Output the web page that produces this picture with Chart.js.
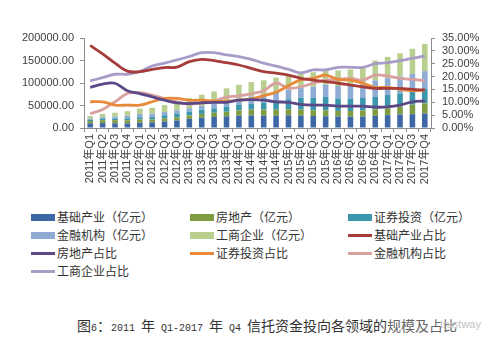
<!DOCTYPE html>
<html lang="zh-CN">
<head>
<meta charset="utf-8">
<script src="https://cdn.jsdelivr.net/npm/chart.js@4.4.1/dist/chart.umd.min.js"></script>
<style>
    body { margin: 0; background: #fff; width: 500px; height: 350px; position: relative; overflow: hidden; font-family: "Noto Sans CJK SC", sans-serif; }
    #chartBox { position: absolute; left: 0; top: 0; width: 500px; height: 200px; }
    .item { position: absolute; font-size: 12px; color: #333; line-height: 14px; height: 14px; white-space: nowrap; }
    .item i { display: inline-block; width: 24px; vertical-align: middle; margin-right: 2px; margin-top: -2px; }
    .caption { position: absolute; left: 77px; top: 317px; line-height: 16px; color: #333; white-space: nowrap; font-family: "Noto Sans CJK SC", sans-serif; font-size: 14px; }
    .caption .a { font-family: "Liberation Mono", monospace; font-size: 10px; white-space: pre; }
    .caption .w { color: #666; }
    .mark { position: absolute; left: 440px; top: 318px; font-size: 11px; color: #c4c4c4; font-family: "Liberation Sans", sans-serif; }
</style>
</head>
<body>
<div id="chartBox"><canvas id="trustChart" width="500" height="200"></canvas></div>
<div id="legend"></div>
<div class="caption">图<span class="a">6</span>：<span class="a">2011 </span>年<span class="a"> Q1-2017 </span>年<span class="a"> Q4 </span>信托资金投向各领域的<span class="w">规模及占比</span></div>
<div class="mark">trustway</div>
<script>
const quarters = [
    "2011年Q1", "2011年Q2", "2011年Q3", "2011年Q4",
    "2012年Q1", "2012年Q2", "2012年Q3", "2012年Q4",
    "2013年Q1", "2013年Q2", "2013年Q3", "2013年Q4",
    "2014年Q1", "2014年Q2", "2014年Q3", "2014年Q4",
    "2015年Q1", "2015年Q2", "2015年Q3", "2015年Q4",
    "2016年Q1", "2016年Q2", "2016年Q3", "2016年Q4",
    "2017年Q1", "2017年Q2", "2017年Q3", "2017年Q4"
];

// 规模（亿元）
const infraAmount = [10375, 10944, 10372, 10387, 11800, 12513, 14528, 16825, 20467, 22869, 24534, 25931, 27222, 27678,
    27311, 27422, 27981, 27605, 26572, 26177, 25512, 25040, 25493, 27209, 28626, 30146, 30806, 32033];
const estateAmount = [5107, 6498, 7162, 6815, 7220, 6640, 6677, 6957, 7536, 8394, 9364, 10209, 12000, 13123,
    13469, 13131, 13583, 13159, 12715, 12943, 12463, 12745, 13543, 14311, 15242, 17422, 20948, 22726];
const securityAmount = [3297, 3876, 3663, 4183, 4795, 5598, 7109, 8164, 8568, 9250, 9832, 10617, 12000, 13481,
    15713, 17895, 22412, 26747, 27572, 29959, 27711, 27889, 27723, 27915, 29369, 29363, 29779, 31817];
const financeAmount = [1810, 2736, 4198, 6298, 7382, 7025, 7109, 7241, 7378, 8394, 9832, 12251, 13889, 15867,
    18083, 22530, 21054, 22885, 24858, 27050, 27711, 28938, 29635, 36396, 37548, 37780, 38815, 39825];
const businessAmount = [5915, 7448, 8602, 9823, 11800, 13226, 15579, 18812, 22054, 25095, 27437, 28994, 30889, 31853,
    31427, 31026, 30969, 30608, 32286, 32867, 34602, 35386, 37602, 44170, 47214, 51287, 55655, 60603];

// 占比（%）
const infraShare = [32.1, 28.8, 25.2, 22.1, 21.9, 22.8, 23.5, 23.7, 25.8, 26.7, 26.2, 25.4, 24.5, 23.2,
    21.9, 21.3, 20.6, 19.3, 18.6, 18.0, 17.4, 16.7, 16.0, 15.4, 15.4, 15.4, 15.0, 14.8];
const estateShare = [15.8, 17.1, 17.4, 14.5, 13.4, 12.1, 10.8, 9.8, 9.5, 9.8, 10.0, 10.0, 10.8, 11.0,
    10.8, 10.2, 10.0, 9.2, 8.9, 8.9, 8.5, 8.5, 8.5, 8.1, 8.2, 8.9, 10.2, 10.5];
const securityShare = [10.2, 10.2, 8.9, 8.9, 8.9, 10.2, 11.5, 11.5, 10.8, 10.8, 10.5, 10.4, 10.8, 11.3,
    12.6, 13.9, 16.5, 18.7, 19.3, 20.6, 18.9, 18.6, 17.4, 15.8, 15.8, 15.0, 14.5, 14.7];
const financeShare = [5.6, 7.2, 10.2, 13.4, 13.7, 12.8, 11.5, 10.2, 9.3, 9.8, 10.5, 12.0, 12.5, 13.3,
    14.5, 17.5, 15.5, 16.0, 17.4, 18.6, 18.9, 19.3, 18.6, 20.6, 20.2, 19.3, 18.9, 18.4];
const businessShare = [18.3, 19.6, 20.9, 20.9, 21.9, 24.1, 25.2, 26.5, 27.8, 29.3, 29.3, 28.4, 27.8, 26.7,
    25.2, 24.1, 22.8, 21.4, 22.6, 22.6, 23.6, 23.6, 23.6, 25.0, 25.4, 26.2, 27.1, 28.0];

const leftTicks = [0, 50000, 100000, 150000, 200000];
const rightTicks = [0, 5, 10, 15, 20, 25, 30, 35];

document.addEventListener("DOMContentLoaded", function () {
    const datasets = buildDatasets();
    drawChart(datasets);
    drawLegend(datasets);
});

function bar(label, data, color) {
    return {
        type: "bar", label: label, data: data, backgroundColor: color,
        yAxisID: "y", stack: "amount", order: 1,
        barPercentage: 0.45, categoryPercentage: 1
    };
}

function line(label, data, color) {
    return {
        type: "line", label: label, data: data, borderColor: color, backgroundColor: color,
        yAxisID: "y1", order: 0, borderWidth: 2.8, pointRadius: 0, tension: 0.35, fill: false
    };
}

function buildDatasets() {
    return [
        bar("基础产业（亿元）", infraAmount, "#3d68a5"),
        bar("房地产（亿元）", estateAmount, "#7f9c42"),
        bar("证券投资（亿元）", securityAmount, "#3c97ae"),
        bar("金融机构（亿元）", financeAmount, "#8facd4"),
        bar("工商企业（亿元）", businessAmount, "#b8cf90"),
        line("基础产业占比", infraShare, "#a63d3a"),
        line("房地产占比", estateShare, "#5c4886"),
        line("证券投资占比", securityShare, "#e88a3a"),
        line("金融机构占比", financeShare, "#d9a0a0"),
        line("工商企业占比", businessShare, "#a99cc8")
    ];
}

function drawChart(datasets) {
    const ctx = document.getElementById("trustChart").getContext("2d");
    const tickFont = { family: "'Liberation Sans', 'Noto Sans CJK SC', sans-serif", size: 11 };
    const axisColor = "#8c8c8c";

    new Chart(ctx, {
        data: { labels: quarters, datasets: datasets },
        options: {
            responsive: false,
            animation: false,
            layout: { padding: { left: 4, right: 0, top: 38, bottom: 0 } },
            plugins: { legend: { display: false }, tooltip: { enabled: false } },
            scales: {
                x: {
                    stacked: true,
                    grid: { display: true, drawOnChartArea: false, offset: true, color: axisColor, tickLength: 4 },
                    border: { color: axisColor },
                    ticks: { color: "#404040", font: tickFont, minRotation: 90, maxRotation: 90, autoSkip: false, padding: 2 },
                    afterFit: (scale) => { scale.height = 72; }
                },
                y: {
                    position: "left", stacked: true, min: 0, max: 200000,
                    afterBuildTicks: (scale) => { scale.ticks = leftTicks.map((v) => ({ value: v })); },
                    grid: { drawOnChartArea: false, color: axisColor, tickLength: 4 },
                    border: { color: axisColor },
                    ticks: { color: "#404040", font: tickFont, padding: 6, autoSkip: false, callback: (v) => v.toFixed(2) },
                    afterFit: (scale) => { scale.width = 80; }
                },
                y1: {
                    position: "right", min: 0, max: 35,
                    afterBuildTicks: (scale) => { scale.ticks = rightTicks.map((v) => ({ value: v })); },
                    grid: { drawOnChartArea: false, color: axisColor, tickLength: 4 },
                    border: { color: axisColor },
                    ticks: { color: "#404040", font: tickFont, padding: 7, autoSkip: false, callback: (v) => v.toFixed(2) + "%" },
                    afterFit: (scale) => { scale.width = 69; }
                }
            }
        }
    });
}

function drawLegend(datasets) {
    const box = document.getElementById("legend");
    const cols = [31, 190, 348];
    datasets.forEach((ds, i) => {
        const item = document.createElement("div");
        item.className = "item";
        item.style.left = cols[i % 3] + "px";
        item.style.top = (210 + Math.floor(i / 3) * 18) + "px";
        const swatch = document.createElement("i");
        swatch.style.height = ds.type === "bar" ? "7px" : "3px";
        swatch.style.background = ds.type === "bar" ? ds.backgroundColor : ds.borderColor;
        item.appendChild(swatch);
        item.appendChild(document.createTextNode(ds.label));
        box.appendChild(item);
    });
}
</script>
</body>
</html>
